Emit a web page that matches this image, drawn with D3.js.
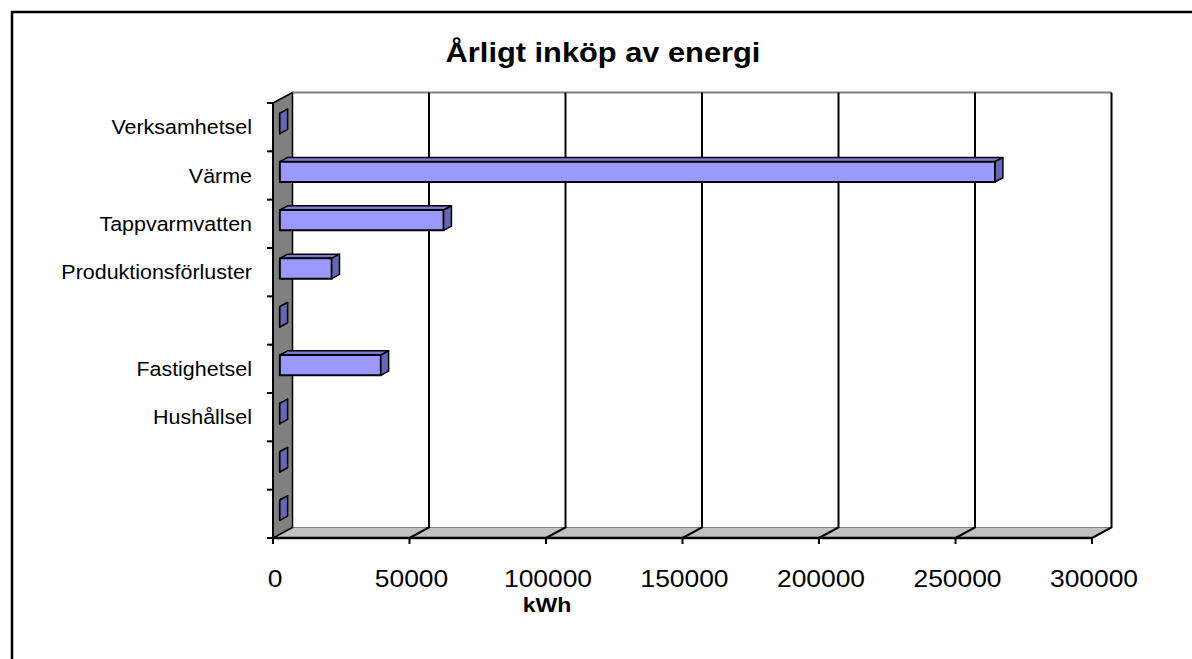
<!DOCTYPE html>
<html lang="sv">
	<head>
		<meta charset="utf-8">
		<title>Årligt inköp av energi</title>
		<script type="text/javascript" src="https://cdn.jsdelivr.net/npm/d3@7"></script>
		<style type="text/css">
		body{
			margin: 0;
			background-color: #ffffff;
		}
		svg{
			display: block;
		}
		text{
			font-family: "Liberation Sans", Arial, sans-serif;
			fill: #000000;
		}
		</style>
	</head>
	<body>
		<div id="chart"></div>
		<script type="text/javascript">

			//data
			var categories = ["Verksamhetsel", "Värme", "Tappvarmvatten", "Produktionsförluster", "",
							"Fastighetsel", "Hushållsel", "", ""];
			var values = [0, 262000, 60000, 19000, 0, 37000, 0, 0, 0];
			var xTicks = [0, 50000, 100000, 150000, 200000, 250000, 300000];
			var title = "Årligt inköp av energi";
			var xTitle = "kWh";

			//size
			var w = 1192;
			var h = 659;

			//3d depth offset of the walls
			var depthX = 19.5;
			var depthY = -10.5;
			//bars sit between these depth fractions
			var barFront = 0.35;
			var barBack = 0.75;
			//text in the picture is a bit wide
			var stretch = 1.1;

			var svg = d3.select("#chart")
						.append("svg")
						.attr("width", w)
						.attr("height", h);

			//outer frame
			svg.append("rect")
			   .attr("x", 12)
			   .attr("y", 12)
			   .attr("width", 1300)
			   .attr("height", 800)
			   .attr("fill", "none")
			   .attr("stroke", "#000")
			   .attr("stroke-width", 2.5);

			var x = d3.scaleLinear()
					  .domain([0, 300000])
					  .range([273, 1092]);

			var y = d3.scaleBand()
					  .domain(d3.range(categories.length))
					  .range([103, 538])
					  .paddingInner(0.58)
					  .paddingOuter(0.29);

			var yTop = 103, yBot = 538;
			var x0 = x.range()[0], x1 = x.range()[1];

			function pt(px, py, d) {
				return [px + depthX * d, py + depthY * d];
			}
			function poly(points) {
				return points.map(function(p) { return p.join(","); }).join(" ");
			}

			//floor
			svg.append("polygon")
			   .attr("points", poly([pt(x0, yBot, 0), pt(x1, yBot, 0), pt(x1, yBot, 1), pt(x0, yBot, 1)]))
			   .attr("fill", "#c0c0c0")
			   .attr("stroke", "#808080")
			   .attr("stroke-width", 1);

			//left wall
			svg.append("polygon")
			   .attr("points", poly([pt(x0, yTop, 0), pt(x0, yTop, 1), pt(x0, yBot, 1), pt(x0, yBot, 0)]))
			   .attr("fill", "#808080")
			   .attr("stroke", "#000")
			   .attr("stroke-width", 1.5);

			//back wall top edge
			svg.append("line")
			   .attr("x1", pt(x0, yTop, 1)[0]).attr("y1", pt(x0, yTop, 1)[1])
			   .attr("x2", pt(x1, yTop, 1)[0]).attr("y2", pt(x1, yTop, 1)[1])
			   .attr("stroke", "#808080")
			   .attr("stroke-width", 2);

			//gridlines on back wall and across the floor
			var grid = svg.append("g");
			grid.selectAll("polyline")
				.data(xTicks.slice(1))
				.enter()
				.append("polyline")
				.attr("points", function(d) {
					return poly([pt(x(d), yTop, 1), pt(x(d), yBot, 1), pt(x(d), yBot, 0)]);
				})
				.attr("fill", "none")
				.attr("stroke", "#000")
				.attr("stroke-width", 2);

			//axes
			svg.append("line")
			   .attr("x1", x0).attr("y1", yBot)
			   .attr("x2", x1).attr("y2", yBot)
			   .attr("stroke", "#000")
			   .attr("stroke-width", 2.5);
			svg.append("line")
			   .attr("x1", x0).attr("y1", yTop)
			   .attr("x2", x0).attr("y2", yBot)
			   .attr("stroke", "#000")
			   .attr("stroke-width", 2);

			//value axis ticks and labels
			svg.selectAll(".xtick")
			   .data(xTicks)
			   .enter()
			   .append("line")
			   .attr("class", "xtick")
			   .attr("x1", function(d) { return x(d); })
			   .attr("x2", function(d) { return x(d); })
			   .attr("y1", yBot)
			   .attr("y2", yBot + 6)
			   .attr("stroke", "#000")
			   .attr("stroke-width", 2);

			svg.selectAll(".xlabel")
			   .data(xTicks)
			   .enter()
			   .append("text")
			   .attr("class", "xlabel")
			   .text(function(d) { return d; })
			   .attr("text-anchor", "middle")
			   .attr("font-size", "24px")
			   .attr("transform", function(d) {
			   		return "translate(" + (x(d) + 2) + ",587) scale(" + stretch + ",1)";
			   });

			//category axis ticks and labels
			var catEdges = d3.range(categories.length + 1).map(function(i) {
				return yTop + i * (yBot - yTop) / categories.length;
			});
			svg.selectAll(".ytick")
			   .data(catEdges)
			   .enter()
			   .append("line")
			   .attr("class", "ytick")
			   .attr("x1", x0 - 6)
			   .attr("x2", x0)
			   .attr("y1", function(d) { return d; })
			   .attr("y2", function(d) { return d; })
			   .attr("stroke", "#000")
			   .attr("stroke-width", 2);

			svg.selectAll(".ylabel")
			   .data(categories)
			   .enter()
			   .append("text")
			   .attr("class", "ylabel")
			   .text(function(d) { return d; })
			   .attr("text-anchor", "end")
			   .attr("font-size", "19.5px")
			   .attr("transform", function(d, i) {
			   		return "translate(252," + (y(i) + y.bandwidth() / 2 + 7) + ") scale(" + stretch + ",1)";
			   });

			//3d bars
			var bars = svg.selectAll(".bar")
						  .data(values)
						  .enter()
						  .append("g")
						  .attr("class", "bar");

			//top face
			bars.append("polygon")
				.attr("points", function(d, i) {
					var t = y(i);
					return poly([pt(x(0), t, barFront), pt(x(d), t, barFront), pt(x(d), t, barBack), pt(x(0), t, barBack)]);
				})
				.attr("fill", "#7c7cd6")
				.attr("stroke", "#000")
				.attr("stroke-width", 1.5)
				.attr("stroke-linejoin", "round");

			//front face
			bars.append("polygon")
				.attr("points", function(d, i) {
					var t = y(i), b = y(i) + y.bandwidth();
					return poly([pt(x(0), t, barFront), pt(x(d), t, barFront), pt(x(d), b, barFront), pt(x(0), b, barFront)]);
				})
				.attr("fill", "#9999ff")
				.attr("stroke", "#000")
				.attr("stroke-width", 2)
				.attr("stroke-linejoin", "round");

			//end face
			bars.append("polygon")
				.attr("points", function(d, i) {
					var t = y(i), b = y(i) + y.bandwidth();
					return poly([pt(x(d), t, barFront), pt(x(d), t, barBack), pt(x(d), b, barBack), pt(x(d), b, barFront)]);
				})
				.attr("fill", "#6666b3")
				.attr("stroke", "#000")
				.attr("stroke-width", 1.5)
				.attr("stroke-linejoin", "round");

			//titles
			svg.append("text")
			   .text(title)
			   .attr("text-anchor", "middle")
			   .attr("font-size", "28px")
			   .attr("font-weight", "bold")
			   .attr("transform", "translate(603,62) scale(" + stretch + ",1)");

			svg.append("text")
			   .text(xTitle)
			   .attr("text-anchor", "middle")
			   .attr("font-size", "21px")
			   .attr("font-weight", "bold")
			   .attr("transform", "translate(547,612) scale(" + stretch + ",1)");

		</script>
	</body>
</html>
